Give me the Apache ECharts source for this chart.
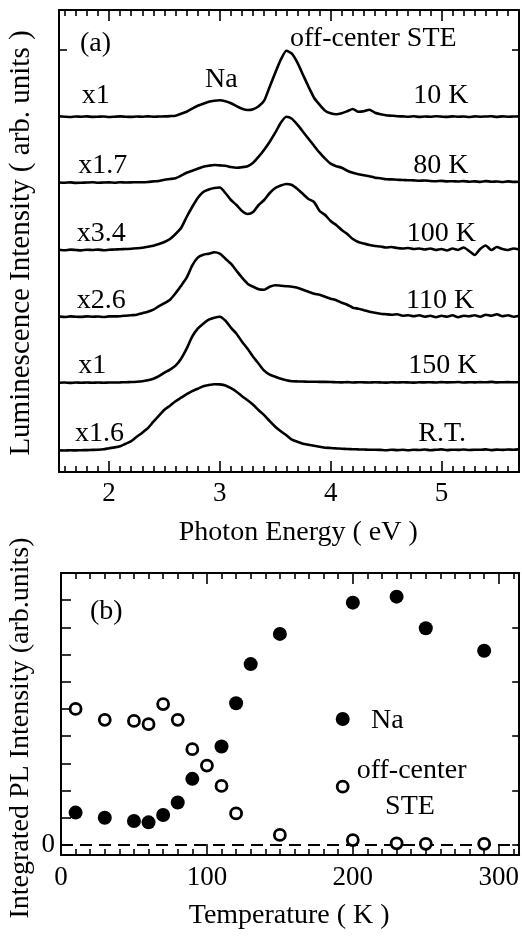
<!DOCTYPE html>
<html><head><meta charset="utf-8">
<script src="https://cdn.jsdelivr.net/npm/echarts@6/dist/echarts.min.js"></script>
<style>html,body{margin:0;padding:0;background:#fff}#c{width:522px;height:936px}</style>
</head><body><div id="c"></div>
<script>
// ---------- data: panel (a) ----------
const energy = [1.55,1.60,1.65,1.70,1.75,1.80,1.85,1.90,1.95,2.00,
  2.05,2.10,2.15,2.20,2.25,2.30,2.35,2.40,2.45,2.50,
  2.55,2.60,2.65,2.70,2.75,2.80,2.85,2.90,2.95,3.00,
  3.05,3.10,3.15,3.20,3.25,3.30,3.35,3.40,3.45,3.50,
  3.55,3.60,3.65,3.70,3.75,3.80,3.85,3.90,3.95,4.00,
  4.05,4.10,4.15,4.20,4.25,4.30,4.35,4.40,4.45,4.50,
  4.55,4.60,4.65,4.70,4.75,4.80,4.85,4.90,4.95,5.00,
  5.05,5.10,5.15,5.20,5.25,5.30,5.35,5.40,5.45,5.50,
  5.55,5.60,5.65,5.70];
const spec10K = [0.3,0,-0.3,0.2,0,0.3,-0.2,0,0.2,-0.3,
  0,0.3,0,-0.2,0.2,0,0.3,0,0.2,0.3,
  0.6,1,3,5,8,11,13,15,16,16.5,
  15.5,13.5,10.5,8,6.7,7.5,10.5,16,30,44,
  57,66,63,54,42,30,19,12,6,3.5,
  2.5,3.5,5.5,7.7,5,5.5,7,4,2.5,1.5,
  1,0.5,0.3,0,0.4,-0.2,0.2,0,0.4,0.1,
  -0.2,0.3,0,0.2,-0.3,0.3,0,0.2,0.4,-0.2,
  0.3,0,0.2,0.3];
const spec80K = [0.2,0,0.3,-0.2,0,0.2,0.4,0,0.2,0.3,
  0,0.4,0.2,0.3,0.5,0.5,0.7,1.3,1.7,3,
  3.7,4.5,7,10,12,14,16,17,17.7,17.3,
  17,15.7,15,15.5,16.5,20,26,33,41,50,
  60,66,64,58,51,44,37,30,24,19,
  16.5,15,12,10,8.5,7.5,6.5,5,4.5,3.5,
  3.3,3,2.7,2.5,2.3,2,2.2,1.7,1.5,1.8,
  1.3,1.5,1.2,1.6,1,1.3,0.8,1.6,1,1.2,
  0.7,1.3,0.8,1];
const spec100K = [0.3,-0.3,0.4,0,-0.4,0.3,0,0.4,-0.2,0.2,
  0.5,0.7,1,1.2,1.7,2.3,3.3,4.3,6,8,
  11,16,22,33,43,52,58,60.5,62,62.5,
  57,50,45,39,36,38,45,50,57,62,
  64.5,66,65,61,56,51,48,39,35,29,
  25,20,16,11,8,6.5,5,4,3.5,2.5,
  3,2,1.5,2,1,1.5,0.5,1.5,0,1,
  -0.5,1.5,0,2.5,-1,-5,1,4.5,0,3,
  1,0,1.5,0.5];
const spec110K = [0.2,-0.3,0.3,0,-0.2,0.3,0,0.2,-0.3,0.3,
  0.3,0.5,1,1.5,2,3.5,5,7,10.5,13.5,
  17,23.5,31,39,51,59,62,63,64.5,63,
  58,53,46,39,33,30,27.5,27,30,31.5,
  31,30.5,30,29,27,25,23,22,20,18,
  16.5,14,12,9,8,6.5,5,4,3,2.5,
  2,2.5,1,1.5,0.5,1.5,0,1,-0.5,1,
  0,1.5,-0.5,1,0.5,1.5,0,2,1,2.5,
  0.5,1.5,0,1];
const spec150K = [0,0.2,-0.2,0.2,0,0.2,-0.1,0.2,0,0.2,
  0.2,0.3,0.5,0.7,1,1.5,2.5,4,6.5,10,
  13,17,24,34,46,54,59,63,65,66,
  62,55,49,41,34,26,19,12,8,6,
  4,2.5,1.5,1.3,1.2,1,1,0.8,0.8,0.7,
  0.5,0.3,0.6,0.2,0.5,0.3,0.2,0.5,0.3,0.1,
  0.4,0.2,0.5,0.3,0.1,0.4,0.3,0.5,0.2,0.6,
  0.3,0.4,0.7,0.2,0.5,0.3,0.6,0.4,0.8,0.3,
  0.5,0.6,0.4,0.5];
const specRT = [0.3,0.2,0.4,0.3,0.5,0.6,0.8,1,1.5,2.5,
  3.3,4.5,7,9.5,14,18,22.5,29,35,41,
  45,49.5,53,56.5,59.5,62,64.5,65.7,66.5,66.3,
  65.3,62.5,59,54.5,50.5,46,40.5,35.5,29.5,24,
  19.5,15.5,11,9,7,6,5,4,3,2.7,
  2.3,2,1.7,1.5,1.3,1.2,1,1,0.8,0.5,
  1,0.6,0.9,0.4,1,0.7,1.2,0.5,0.9,1.3,
  0.6,1,0.8,1.2,0.7,1,0.9,1.3,0.6,1.1,
  0.8,1.2,1,1.3];
const spectra = [spec10K, spec80K, spec100K, spec110K, spec150K, specRT];
const spectraOffsets = [355.3, 289.3, 222, 155.3, 89.3, 21.3];
const tempLabels = ['10 K','80 K','100 K','110 K','150 K','R.T.'];
const scaleLabels = ['x1','x1.7','x3.4','x2.6','x1','x1.6'];
const energyTickLabels = [2,3,4,5];

// ---------- data: panel (b) ----------
const tempNa  = [10,30,50,60,70,80,90,110,120,130,150,200,230,250,290];
const intNa   = [1.19,1.0,0.88,0.83,1.10,1.56,2.43,3.62,5.21,6.65,7.76,8.91,9.13,7.97,7.14];
const tempSTE = [10,30,50,60,70,80,90,100,110,120,150,200,230,250,290];
const intSTE  = [5.0,4.6,4.56,4.44,5.18,4.6,3.52,2.92,2.17,1.16,0.37,0.18,0.06,0.04,0.04];
const tempTickLabels = [0,100,200,300];

// ---------- layout ----------
const FONT = 'Liberation Serif';
const K = '#000';
const energyMinor = [];
for (let k = 16; k <= 56; k++) if (k % 10) energyMinor.push(k / 10);
const tempMinor = [];
for (let t = 10; t <= 310; t += 10) if (t % 100) tempMinor.push(t);

function axis(o) {
  return {
    type: 'value', gridIndex: o.grid, position: o.pos, min: o.min, max: o.max,
    axisLine: {show: !!o.line, onZero: false, lineStyle: {color: K, width: 2}},
    axisTick: {show: true, inside: true, length: o.len, customValues: o.ticks,
      lineStyle: {color: K, width: 1.6}},
    axisLabel: o.labels ? {show: true, customValues: o.labels, fontFamily: FONT,
      fontSize: 27, color: K, margin: o.margin} : {show: false},
    splitLine: {show: false}
  };
}
const EMIN = 1.548, EMAX = 5.70, TMIN = 0, TMAX = 314;
const xAxes = [
  axis({grid:0,pos:'bottom',min:EMIN,max:EMAX,ticks:energyMinor,len:6,line:1,labels:energyTickLabels,margin:8}),
  axis({grid:0,pos:'bottom',min:EMIN,max:EMAX,ticks:energyTickLabels,len:11}),
  axis({grid:0,pos:'top',min:EMIN,max:EMAX,ticks:energyMinor,len:6,line:1}),
  axis({grid:0,pos:'top',min:EMIN,max:EMAX,ticks:energyTickLabels,len:11}),
  axis({grid:1,pos:'bottom',min:TMIN,max:TMAX,ticks:tempMinor,len:6,line:1,labels:tempTickLabels,margin:9}),
  axis({grid:1,pos:'bottom',min:TMIN,max:TMAX,ticks:tempTickLabels,len:11}),
  axis({grid:1,pos:'top',min:TMIN,max:TMAX,ticks:tempMinor,len:6,line:1}),
  axis({grid:1,pos:'top',min:TMIN,max:TMAX,ticks:tempTickLabels,len:11})
];
const yAxes = [
  axis({grid:0,pos:'left',min:0,max:462,ticks:[422],len:8,line:1}),
  axis({grid:0,pos:'right',min:0,max:462,ticks:[422],len:7,line:1}),
  axis({grid:1,pos:'left',min:-0.37,max:10,ticks:[0,1,2,3,4,5,6,7,8,9],len:10,line:1,labels:[0],margin:6}),
  axis({grid:1,pos:'right',min:-0.37,max:10,ticks:[0,2,4,6,8],len:7,line:1})
];

const series = spectra.map((s, j) => ({
  type: 'line', xAxisIndex: 0, yAxisIndex: 0, showSymbol: false, silent: true,
  smooth: 0.2, lineStyle: {color: K, width: 2.6},
  data: energy.map((e, i) => [e, spectraOffsets[j] + s[i]])
}));
series.push({
  type: 'scatter', xAxisIndex: 4, yAxisIndex: 2, symbol: 'circle', symbolSize: 14, z: 3,
  itemStyle: {color: K, opacity: 1}, data: tempNa.map((t, i) => [t, intNa[i]]),
  markLine: {silent: true, symbol: 'none', label: {show: false}, z: 1,
    lineStyle: {color: K, width: 2, type: [12, 7], opacity: 1}, data: [{yAxis: 0}]}
});
series.push({
  type: 'scatter', xAxisIndex: 4, yAxisIndex: 2, symbol: 'circle', symbolSize: 11, z: 4,
  itemStyle: {color: '#fff', borderColor: K, borderWidth: 2.8, opacity: 1},
  data: tempSTE.map((t, i) => [t, intSTE[i]])
});

// annotation text layout (x,y in px; y = visual middle)
const scalePos = [[81.7,96],[78.3,166],[76.7,233.7],[76.7,301],[78.3,366],[75,433.3]];
const tempPos  = [[413.3,96],[413.3,166],[406.7,233.7],[406,301],[408.3,366],[418.3,433.3]];
function txt(x, y, s, o) {
  return Object.assign({type: 'text', x: x, y: y, silent: true,
    style: Object.assign({text: s, fill: K, font: '28px "' + FONT + '"',
      textAlign: 'left', textVerticalAlign: 'middle'}, (o && o.style) || {})},
    o && o.rotation !== undefined ? {rotation: o.rotation} : {});
}
const graphics = [];
scaleLabels.forEach((s, i) => graphics.push(txt(scalePos[i][0], scalePos[i][1], s)));
tempLabels.forEach((s, i) => graphics.push(txt(tempPos[i][0], tempPos[i][1], s)));
graphics.push(txt(80, 44, '(a)'));
graphics.push(txt(290, 39, 'off-center STE'));
graphics.push(txt(205, 80, 'Na'));
graphics.push(txt(90, 611.7, '(b)'));
graphics.push(txt(371, 720.3, 'Na'));
graphics.push(txt(356.7, 771, 'off-center'));
graphics.push(txt(410, 806.7, 'STE', {style: {textAlign: 'center'}}));
graphics.push({type: 'circle', shape: {cx: 342.7, cy: 719, r: 7}, style: {fill: K}, silent: true});
graphics.push({type: 'circle', shape: {cx: 342.7, cy: 786.7, r: 5.5},
  style: {fill: '#fff', stroke: K, lineWidth: 2.8}, silent: true});
graphics.push(txt(298.3, 532.7, 'Photon Energy ( eV )', {style: {textAlign: 'center'}}));
graphics.push(txt(289.2, 916, 'Temperature ( K )', {style: {textAlign: 'center'}}));
graphics.push(txt(21, 243, 'Luminescence Intensity ( arb. units )',
  {rotation: Math.PI / 2, style: {textAlign: 'center', font: '29px "' + FONT + '"'}}));
graphics.push(txt(21, 728, 'Integrated PL Intensity (arb.units)',
  {rotation: Math.PI / 2, style: {textAlign: 'center', font: '28px "' + FONT + '"'}}));

const chart = echarts.init(document.getElementById('c'), null, {renderer: 'canvas'});
chart.setOption({
  animation: false,
  backgroundColor: '#fff',
  grid: [
    {left: 59, top: 10, width: 460, height: 462},
    {left: 61, top: 573, width: 461, height: 282}
  ],
  xAxis: xAxes,
  yAxis: yAxes,
  series: series,
  graphic: graphics
});
</script></body></html>
